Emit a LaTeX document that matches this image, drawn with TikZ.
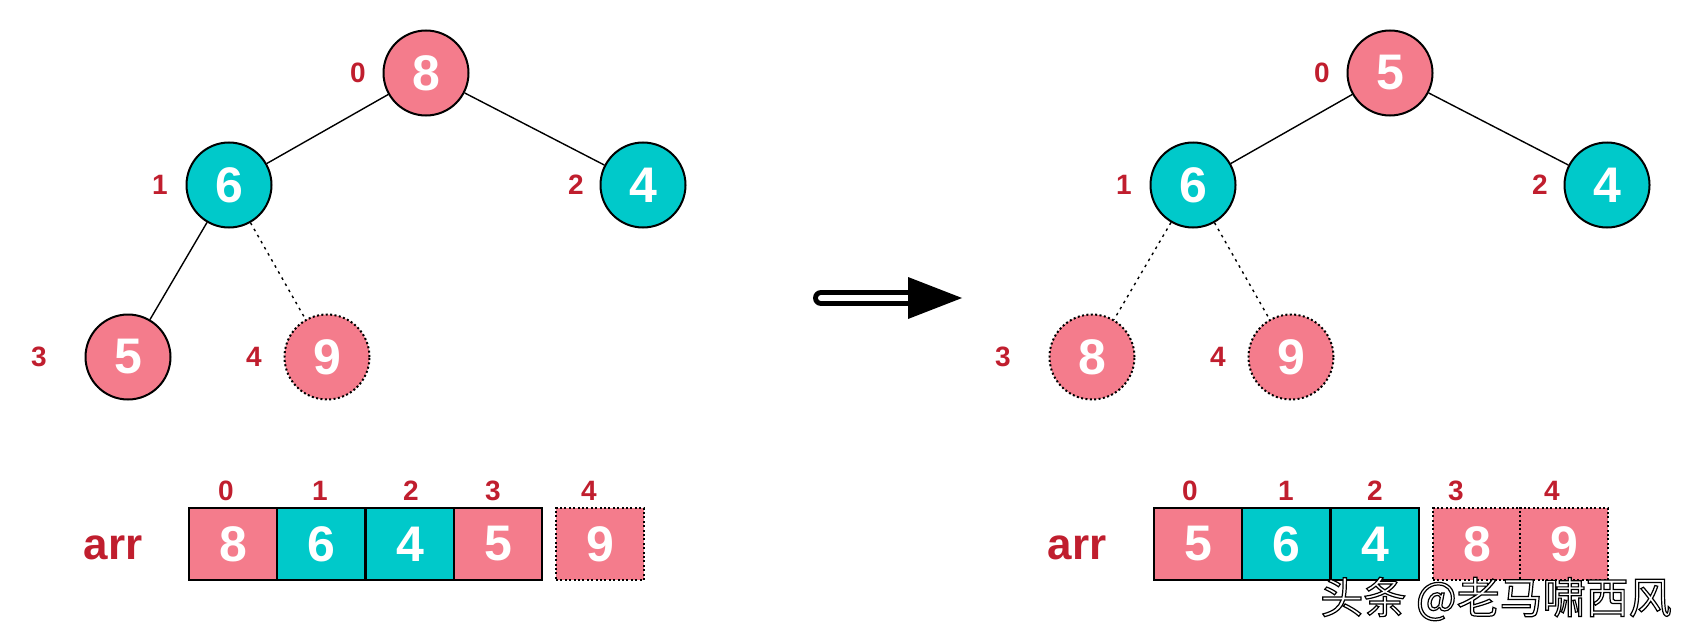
\documentclass[tikz,border=0pt]{standalone}
\usepackage{fontspec}
\setmainfont{Liberation Sans}
\newfontfamily\cjkfont{Noto Sans CJK SC}
\usepackage{xcolor}
\usetikzlibrary{calc, arrows.meta, positioning}

\definecolor{heappink}{RGB}{244,124,140}
\definecolor{heapteal}{RGB}{0,201,202}
\definecolor{idxred}{RGB}{192,30,46}

\begin{document}
\begin{tikzpicture}[x=0.5pt, y=-0.5pt, font=\bfseries]
		\tikzstyle{pinknode} = [circle, draw=black, line width=1pt, fill=heappink, minimum size=42.5pt, inner sep=0pt, text=white, font=\fontsize{25}{25}\selectfont\bfseries]
		\tikzstyle{tealnode} = [pinknode, fill=heapteal]
		\tikzstyle{ghost} = [dash pattern=on 1pt off 1.2pt]
		\tikzstyle{pinkcell} = [rectangle, draw=black, line width=1pt, fill=heappink, minimum width=44pt, minimum height=36pt, inner sep=0pt, text=white, font=\fontsize{25}{25}\selectfont\bfseries]
		\tikzstyle{tealcell} = [pinkcell, fill=heapteal]
		\tikzstyle{idx} = [text=idxred, font=\fontsize{14}{14}\selectfont\bfseries]
		\tikzstyle{arrname} = [text=idxred, font=\fontsize{22}{22}\selectfont\bfseries]
		\tikzstyle{edge} = [line width=0.7pt]
		\tikzstyle{ghostedge} = [line width=0.7pt, dash pattern=on 1.3pt off 2.2pt]
		
		\useasboundingbox (0, 0) rectangle (1690, 642);
		
		% heap before
		\node[pinknode]			at (426, 73)	(l0)	{8};
		\node[tealnode]			at (229, 185)	(l1)	{6};
		\node[tealnode]			at (643, 185)	(l2)	{4};
		\node[pinknode]			at (128, 357)	(l3)	{5};
		\node[pinknode, ghost]	at (327, 357)	(l4)	{9};
		
		\node[idx]	at (358, 73)	(l0i)	{0};
		\node[idx]	at (160, 185)	(l1i)	{1};
		\node[idx]	at (576, 185)	(l2i)	{2};
		\node[idx]	at (39, 357)	(l3i)	{3};
		\node[idx]	at (254, 357)	(l4i)	{4};
		
		\draw [edge] (l0) -- (l1);
		\draw [edge] (l0) -- (l2);
		\draw [edge] (l1) -- (l3);
		\draw [ghostedge] (l1) -- (l4);
		
		% heap after
		\node[pinknode]			at (1390, 73)	(r0)	{5};
		\node[tealnode]			at (1193, 185)	(r1)	{6};
		\node[tealnode]			at (1607, 185)	(r2)	{4};
		\node[pinknode, ghost]	at (1092, 357)	(r3)	{8};
		\node[pinknode, ghost]	at (1291, 357)	(r4)	{9};
		
		\node[idx]	at (1322, 73)	(r0i)	{0};
		\node[idx]	at (1124, 185)	(r1i)	{1};
		\node[idx]	at (1540, 185)	(r2i)	{2};
		\node[idx]	at (1003, 357)	(r3i)	{3};
		\node[idx]	at (1218, 357)	(r4i)	{4};
		
		\draw [edge] (r0) -- (r1);
		\draw [edge] (r0) -- (r2);
		\draw [ghostedge] (r1) -- (r3);
		\draw [ghostedge] (r1) -- (r4);
		
		% arrays
		\node[arrname]	at (113, 548)	(larr)	{arr};
		\node[pinkcell]			at (233, 544)	(la0)	{8};
		\node[tealcell]			at (321, 544)	(la1)	{6};
		\node[tealcell]			at (410, 544)	(la2)	{4};
		\node[pinkcell]			at (498, 544)	(la3)	{5};
		\node[pinkcell, ghost]	at (600, 544)	(la4)	{9};
		
		\node[idx]	at (226, 491)	(la0i)	{0};
		\node[idx]	at (320, 491)	(la1i)	{1};
		\node[idx]	at (411, 491)	(la2i)	{2};
		\node[idx]	at (493, 491)	(la3i)	{3};
		\node[idx]	at (589, 491)	(la4i)	{4};
		
		\node[arrname]	at (1077, 548)	(rarr)	{arr};
		\node[pinkcell]			at (1198, 544)	(ra0)	{5};
		\node[tealcell]			at (1286, 544)	(ra1)	{6};
		\node[tealcell]			at (1375, 544)	(ra2)	{4};
		\node[pinkcell, ghost]	at (1477, 544)	(ra3)	{8};
		\node[pinkcell, ghost]	at (1564, 544)	(ra4)	{9};
		
		\node[idx]	at (1190, 491)	(ra0i)	{0};
		\node[idx]	at (1286, 491)	(ra1i)	{1};
		\node[idx]	at (1375, 491)	(ra2i)	{2};
		\node[idx]	at (1456, 491)	(ra3i)	{3};
		\node[idx]	at (1552, 491)	(ra4i)	{4};
		
		% big arrow
		\coordinate (arrS) at (821, 298);
		\coordinate (arrM) at (911, 298);
		\coordinate (arrE) at (962, 298);
		\draw [double=white, line width=2.5pt, double distance=3pt, line cap=round] (arrS) -- (arrM);
		\fill [black] ($(arrM)+(-3, -21)$) -- (arrE) -- ($(arrM)+(-3, 21)$) -- cycle;
		
		% watermark
		\node[font=\cjkfont\fontsize{21.5}{21.5}\selectfont, text=white]	at (1496, 599)	(wm)
			{\special{pdf:literal direct 0 G 0.6 w 2 Tr}头条 @老马啸西风\special{pdf:literal direct 0 Tr}};
	\end{tikzpicture}
\end{document}
